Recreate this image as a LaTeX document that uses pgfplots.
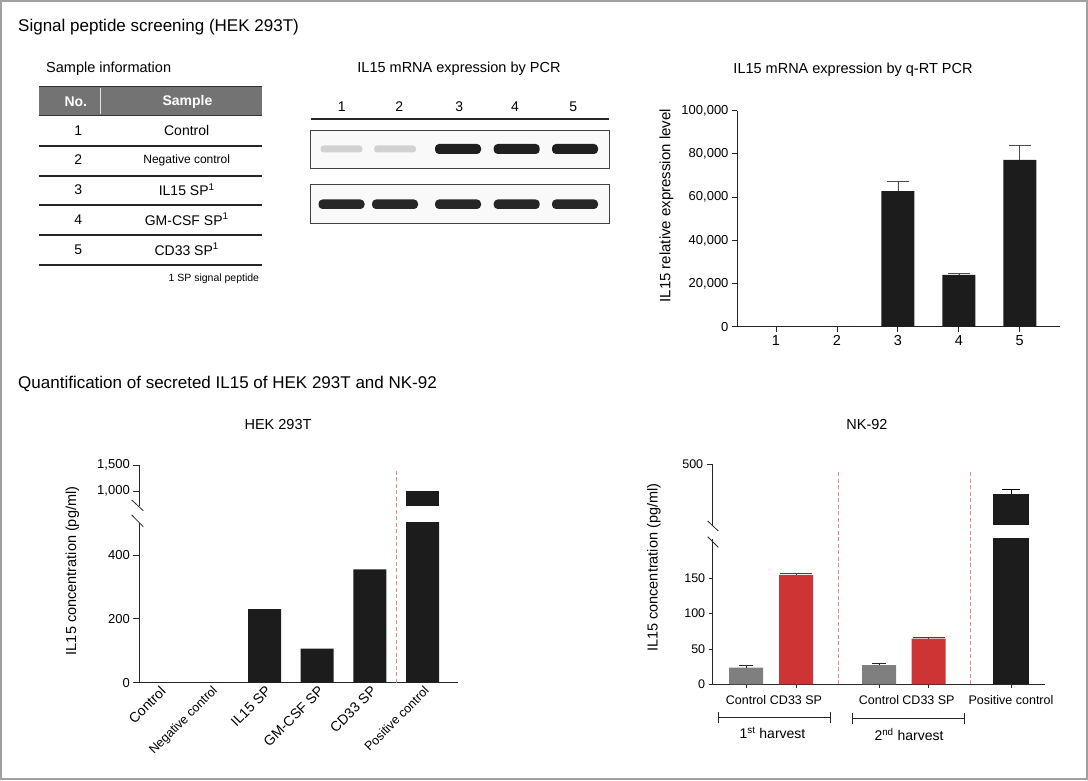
\documentclass[border=0pt]{standalone}
\usepackage{pgfplots}
\pgfplotsset{compat=1.18}
\usepackage{fontspec}
\setmainfont{Liberation Sans}
\newcommand\fs[1]{\fontsize{#1}{#1}\selectfont}
\definecolor{barblk}{HTML}{1C1C1C}
\definecolor{ctrlgray}{HTML}{7F7F7F}
\definecolor{barred}{HTML}{CD3434}
\definecolor{hdrgray}{HTML}{737373}
\definecolor{dashred}{HTML}{D98A8A}
\definecolor{framegray}{HTML}{A0A0A0}
\pgfplotsset{
  base/.style={scale only axis, anchor=south west,
    axis line style={-, line width=0.8pt, black!85},
    tick style={line width=0.8pt, black!85},
    tick align=outside, major tick length=6pt,
    /pgf/number format/fixed,
    /pgf/number format/1000 sep={,},
    /pgf/number format/assume math mode=true,
    scaled y ticks=false,
    tick label style={font=\fs{13}},
    label style={font=\fs{14.5}},
  },
}
\begin{document}
\begin{tikzpicture}[x=1pt,y=1pt]
\useasboundingbox (0,0) rectangle (1088,780);
\draw[framegray, line width=1.5pt] (1,1) rectangle (1087,779);

% titles
\node[anchor=west, inner sep=0] at (18,753) {\fs{17}Signal peptide screening (HEK 293T)};
\node[anchor=west, inner sep=0] at (18,396) {\fs{17}Quantification of secreted IL15 of HEK 293T and NK-92};

% ---------- table ----------
\node[anchor=west, inner sep=0] at (46,711) {\fs{14.5}Sample information};
\fill[hdrgray] (39.3,664.3) rectangle (261.7,693.3);
\draw[black!80, line width=1.6pt] (39.3,693.3) -- (261.7,693.3);
\draw[black!80, line width=1.2pt] (39.3,664.3) -- (261.7,664.3);
\draw[white!80!gray, line width=0.8pt] (100,666) -- (100,691.5);
\node[text=white, inner sep=0] at (75.8,678) {\fs{14}\bfseries No.};
\node[text=white, inner sep=0] at (187.5,678) {\fs{14}\bfseries Sample};
\foreach \yy in {634,604,575,545,515} {\draw[black!85, line width=1.2pt] (39.3,\yy) -- (261.7,\yy);}
\node[inner sep=0] at (78.3,649) {\fs{14}1};
\node[inner sep=0] at (78.3,620) {\fs{14}2};
\node[inner sep=0] at (78.3,590) {\fs{14}3};
\node[inner sep=0] at (78.3,560.7) {\fs{14}4};
\node[inner sep=0] at (78.3,530.7) {\fs{14}5};
\node[inner sep=0] at (186.7,649) {\fs{14}Control};
\node[inner sep=0] at (186.7,620) {\fs{12}Negative control};
\node[inner sep=0] at (186.7,590) {\fs{14}IL15 SP\textsuperscript{1}};
\node[inner sep=0] at (186.7,560.7) {\fs{14}GM-CSF SP\textsuperscript{1}};
\node[inner sep=0] at (186.7,530.7) {\fs{14}CD33 SP\textsuperscript{1}};
\node[anchor=east, inner sep=0] at (259.3,501.7) {\fs{10.5}1 SP signal peptide};

% ---------- gel ----------
\node[inner sep=0] at (459,711) {\fs{14.5}IL15 mRNA expression by PCR};
\foreach \xx/\nn in {341.7/1,399.3/2,459.3/3,515/4,573.3/5} {\node[inner sep=0] at (\xx,673.3) {\fs{14}\nn};}
\draw[black!85, line width=1.2pt] (311,661) -- (609,661);
\draw[black!75, line width=1pt, fill=gray!5] (310.7,611.7) rectangle (609.3,649.3);
\draw[black!75, line width=1pt, fill=gray!5] (310.7,556.7) rectangle (609.3,595);
\foreach \xx in {341.5,395} {\fill[gray!35, rounded corners=3pt] (\xx-21,627.5) rectangle (\xx+21,634.5);}
\foreach \xx in {458,516.7,575} {\fill[black!88, rounded corners=4pt] (\xx-23,626) rectangle (\xx+23,636);}
\foreach \xx in {341.5,395,458,516.7,575} {\fill[black!85, rounded corners=4pt] (\xx-23,571) rectangle (\xx+23,580.5);}

% ---------- q-RT PCR ----------
\node[inner sep=0] at (853,710) {\fs{14.5}IL15 mRNA expression by q-RT PCR};
\begin{axis}[base, at={(737pt,453.3pt)}, width=323pt, height=216pt,
  axis x line*=bottom, axis y line*=left,
  xmin=0.36, xmax=5.66, ymin=0, ymax=100000,
  xtick={1,...,5}, ytick={0,20000,...,100000},
  major tick length=5pt,
  xticklabel style={font=\fs{14.5}},
  ylabel={IL15 relative expression level},
  ylabel style={font=\fs{15}, at={(axis description cs:-0.218,0.56)}, anchor=center}]
\addplot[ybar, bar width=33pt, bar shift=0pt, fill=barblk, draw=none]
  coordinates {(1,0) (2,0)};
\addplot[ybar, bar width=33pt, bar shift=0pt, fill=barblk, draw=none,
  error bars/.cd, y dir=plus, y explicit,
  error bar style={line width=0.6pt, black!70},
  error mark options={rotate=90, mark size=11pt, line width=0.6pt, black!70}]
  coordinates {(3,62800) +- (0,4600) (4,23940) +- (0,800) (5,77200) +- (0,6600)};
\end{axis}

% ---------- HEK 293T ----------
\node[inner sep=0] at (278,355) {\fs{14.5}HEK 293T};
\begin{axis}[base, at={(139.3pt,97.3pt)}, width=319pt, height=159.7pt,
  axis x line*=bottom, axis y line*=left,
  xmin=-0.376, xmax=5.677, ymin=0, ymax=500,
  ytick={0,200,400}, xtick={0,...,5},
  xtick style={draw=none},
  xticklabels={Control,{\fs{12.5}Negative control},IL15 SP,GM-CSF SP,CD33 SP,{\fs{12.5}Positive control}},
  xticklabel style={font=\fs{14}, xshift=4pt, yshift=0pt, rotate=45, anchor=east, inner sep=0pt},
  ylabel={IL15 concentration (pg/ml)},
  ylabel style={at={(axis description cs:-0.21,0.70)}, anchor=center}]
\addplot[ybar, bar width=33pt, bar shift=0pt, fill=barblk, draw=none]
  coordinates {(0,0) (1,0) (2,230) (3,107) (4,355) (5,1000)};
\coordinate (hekdash) at (axis cs:4.5,0);
\end{axis}
\begin{axis}[base, at={(139.3pt,274.3pt)}, width=319pt, height=40.7pt,
  axis x line=none, axis y line*=left,
  xmin=-0.376, xmax=5.677, ymin=717, ymax=1500,
  ytick={1000,1500}]
\addplot[ybar, bar width=33pt, bar shift=0pt, fill=barblk, draw=none]
  coordinates {(5,1000)};
\end{axis}
\draw[dashred, line width=0.9pt, dash pattern=on 4pt off 2.5pt] (hekdash) -- ++(0,212.7);
\draw[black!85, line width=0.8pt] (131.7,280) -- (143.3,269.3);
\draw[black!85, line width=0.8pt] (131.7,265) -- (143.3,253.3);

% ---------- NK-92 ----------
\node[inner sep=0] at (867,355) {\fs{14.5}NK-92};
\begin{axis}[base, at={(712.7pt,95.7pt)}, width=332.3pt, height=145.7pt,
  axis x line*=bottom, axis y line*=left,
  xmin=-0.666, xmax=5.98, ymin=0, ymax=206,
  ytick={0,50,100,150}, xtick={0,1,2.66,3.65,5.3},
  major tick length=4pt,
  tick label style={font=\fs{12.5}},
  xticklabel style={yshift=-4pt},
  xticklabels={Control,CD33 SP,Control,CD33 SP,Positive control},
  ylabel={IL15 concentration (pg/ml)},
  ylabel style={at={(axis description cs:-0.177,0.80)}, anchor=center}]
\addplot[ybar, bar width=34pt, bar shift=0pt, fill=ctrlgray, draw=none,
  error bars/.cd, y dir=plus, y explicit,
  error bar style={line width=0.8pt, black!85},
  error mark options={rotate=90, mark size=7pt, line width=0.8pt, black!85}]
  coordinates {(0,23.5) +- (0,3.5) (2.66,27) +- (0,2.5)};
\addplot[ybar, bar width=34pt, bar shift=0pt, fill=barred, draw=none,
  error bars/.cd, y dir=plus, y explicit,
  error bar style={line width=0.8pt, barred!70!black},
  error mark options={rotate=90, mark size=16pt, line width=0.8pt, barred!70!black}]
  coordinates {(1,154.6) +- (0,2) (3.65,64.5) +- (0,2)};
\addplot[ybar, bar width=36pt, bar shift=0pt, fill=barblk, draw=none]
  coordinates {(5.3,402.4)};
\coordinate (nkdashA) at (axis cs:1.846,0);
\coordinate (nkdashB) at (axis cs:4.48,0);
\end{axis}
\begin{axis}[base, at={(712.7pt,254.5pt)}, width=332.3pt, height=61.5pt,
  axis x line=none, axis y line*=left,
  xmin=-0.666, xmax=5.98, ymin=300, ymax=500,
  tick label style={font=\fs{12.5}},
  ytick={500}]
\addplot[ybar, bar width=36pt, bar shift=0pt, fill=barblk, draw=none,
  error bars/.cd, y dir=plus, y explicit,
  error bar style={line width=0.9pt, black},
  error mark options={rotate=90, mark size=8.7pt, line width=0.9pt, black}]
  coordinates {(5.3,402.4) +- (0,15.3)};
\end{axis}
\draw[dashred, line width=0.9pt, dash pattern=on 4pt off 2.5pt] (nkdashA) -- ++(0,214.3);
\draw[dashred, line width=0.9pt, dash pattern=on 4pt off 2.5pt] (nkdashB) -- ++(0,214.3);
\draw[black!85, line width=0.8pt] (707.7,259) -- (718.3,249);
\draw[black!85, line width=0.8pt] (707.7,243.3) -- (718.3,232.7);
% harvest brackets
\draw[black!85, line width=0.9pt] (718.3,62.3) -- (830,62.3);
\draw[black!85, line width=0.9pt] (718.3,56.7) -- (718.3,68.3);
\draw[black!85, line width=0.9pt] (830,56.7) -- (830,68.3);
\draw[black!85, line width=0.9pt] (852.3,61.7) -- (964.3,61.7);
\draw[black!85, line width=0.9pt] (852.3,56) -- (852.3,67.5);
\draw[black!85, line width=0.9pt] (964.3,56) -- (964.3,67.5);
\node[inner sep=0] at (772.5,47.3) {\fs{14}1\textsuperscript{st} harvest};
\node[inner sep=0] at (909,45.7) {\fs{14}2\textsuperscript{nd} harvest};
\end{tikzpicture}
\end{document}
